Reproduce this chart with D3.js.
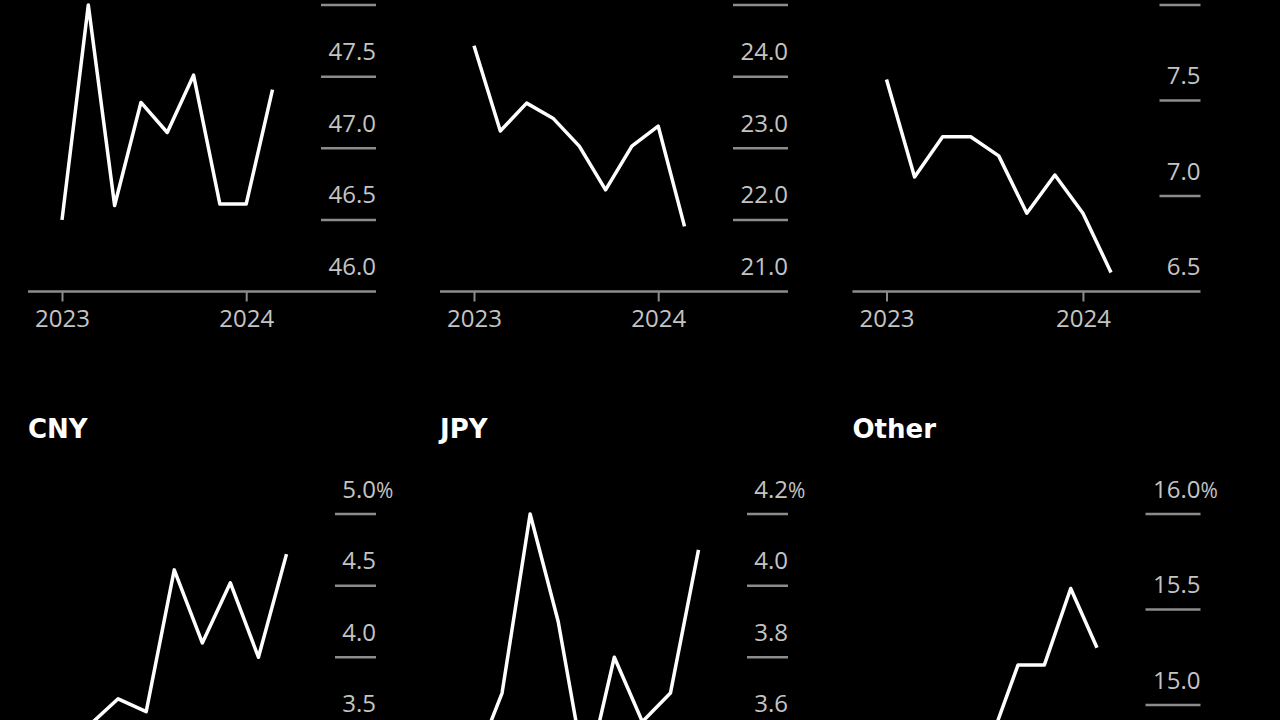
<!DOCTYPE html>
<html>
<head>
<meta charset="utf-8">
<script src="https://cdn.jsdelivr.net/npm/d3@7"></script>
<style>
  html, body { margin: 0; padding: 0; background: #000; }
  svg { display: block; }
</style>
</head>
<body>
<svg id="chart" width="1280" height="720"></svg>
<script>
// ---- data ----
const panelTitles = ["USD", "EUR", "GBP", "CNY", "JPY", "Other"];
const xTickIndex = [0, 7];
const xTickLabels = ["2023", "2024"];

const usd   = [46.50, 48.00, 46.60, 47.32, 47.11, 47.51, 46.61, 46.61, 47.41];
const eur   = [24.43, 23.24, 23.63, 23.42, 23.03, 22.42, 23.03, 23.31, 21.91];
const gbp   = [7.61, 7.10, 7.31, 7.31, 7.21, 6.91, 7.11, 6.91, 6.60];
const cny   = [3.45, 3.53, 3.71, 3.62, 4.61, 4.10, 4.52, 4.00, 4.72];
const jpy   = [3.50, 3.70, 4.20, 3.90, 3.46, 3.80, 3.62, 3.70, 4.10];
const other = [14.60, 14.40, 14.70, 14.55, 14.83, 15.21, 15.21, 15.61, 15.30];

const usdTicks   = [46.0, 46.5, 47.0, 47.5, 48.0];
const eurTicks   = [21, 22, 23, 24, 25];
const gbpTicks   = [6.5, 7.0, 7.5, 8.0];
const cnyTicks   = [3.0, 3.5, 4.0, 4.5, 5.0];
const jpyTicks   = [3.4, 3.6, 3.8, 4.0, 4.2];
const otherTicks = [14.5, 15.0, 15.5, 16.0];

const series = [usd, eur, gbp, cny, jpy, other];
const ticks  = [usdTicks, eurTicks, gbpTicks, cnyTicks, jpyTicks, otherTicks];

// ---- layout ----
const H = 720;
const rows = [{ top: 5, base: 291.5, title: -70.7 }, { top: 514, base: 800.5, title: 438.3 }];
const colLeft = [28, 440, 852.5];
const panelW = 348;
const gridLen = [55, 55, 41, 41, 41, 55];

const svg = d3.select("#chart");
svg.append("rect").attr("width", 1280).attr("height", H).attr("fill", "#000");

const labelFont = "'Open Sans', 'Noto Sans', sans-serif";
const fmt = d3.format(".1f");
// only texts that fall (at least partly) inside the visible frame are drawn
const visible = (baseline, size) => baseline > 2 && baseline - 0.75 * size < H;

series.forEach((vals, k) => {
  const row = rows[Math.floor(k / 3)];
  const L = colLeft[k % 3];
  const R = L + panelW;
  const G = R - gridLen[k];
  const tv = ticks[k];

  const x = d3.scaleLinear().domain([0, vals.length - 1]).range([L + 34, G - 48.5]);
  const y = d3.scaleLinear().domain([tv[0], tv[tv.length - 1]]).range([row.base, row.top]);

  const g = svg.append("g");

  // title
  if (visible(row.title, 26)) {
    g.append("text")
      .attr("x", L).attr("y", row.title)
      .attr("fill", "#fff")
      .attr("font-family", "'DejaVu Sans', sans-serif")
      .attr("font-weight", "bold")
      .attr("font-size", 26)
      .text(panelTitles[k]);
  }

  // y gridlines (short segments at right) + labels
  tv.forEach((t, i) => {
    if (i > 0) {
      g.append("line")
        .attr("x1", G).attr("x2", R)
        .attr("y1", y(t)).attr("y2", y(t))
        .attr("stroke", "#8c8c8c").attr("stroke-width", 2.5);
    }
    const by = y(t) - 16.5;
    if (!visible(by, 24)) return;
    g.append("text")
      .attr("x", R).attr("y", by)
      .attr("text-anchor", "end")
      .attr("fill", "#c4c4c4")
      .attr("font-family", labelFont)
      .attr("font-size", 24)
      .text(fmt(t));
    if (i === tv.length - 1) {
      g.append("text")
        .attr("x", R).attr("y", by)
        .attr("text-anchor", "start")
        .attr("fill", "#c4c4c4")
        .attr("font-family", labelFont)
        .attr("font-size", 21)
        .text("%");
    }
  });

  // x axis
  if (row.base < H) {
    const ax = g.append("g")
      .attr("transform", `translate(0,${row.base})`)
      .call(d3.axisBottom(x)
        .tickValues(xTickIndex)
        .tickFormat((d, i) => xTickLabels[i])
        .tickSize(10)
        .tickPadding(8));
    ax.select(".domain").remove();
    ax.selectAll(".tick line").attr("stroke", "#8c8c8c").attr("stroke-width", 2);
    ax.selectAll(".tick text")
      .attr("fill", "#c4c4c4")
      .attr("font-family", labelFont)
      .attr("font-size", 24);
    g.append("line")
      .attr("x1", L).attr("x2", R)
      .attr("y1", row.base).attr("y2", row.base)
      .attr("stroke", "#8c8c8c").attr("stroke-width", 2.5);
  }

  // line
  const line = d3.line().x((d, i) => x(i)).y(d => y(d));
  g.append("path")
    .datum(vals)
    .attr("d", line)
    .attr("fill", "none")
    .attr("stroke", "#fff")
    .attr("stroke-width", 3.5)
    .attr("stroke-linejoin", "round");
});
</script>
</body>
</html>
